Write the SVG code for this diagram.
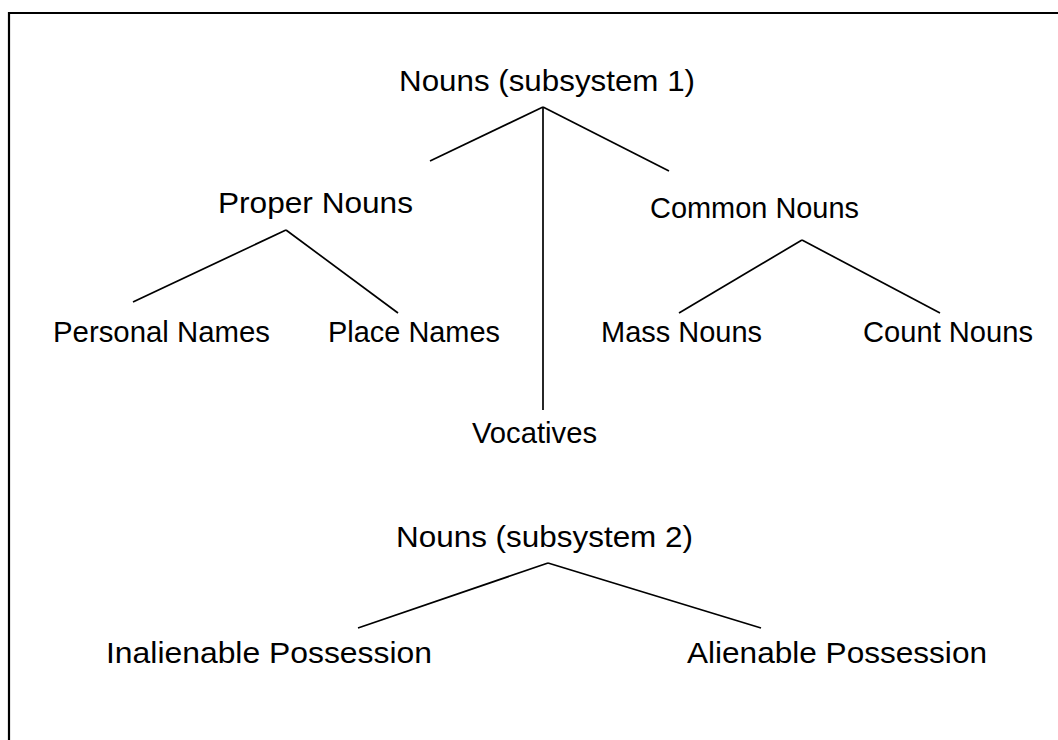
<svg xmlns="http://www.w3.org/2000/svg" width="1058" height="740" viewBox="0 0 1058 740">
<style>
text{font-family:"Liberation Sans",Arial,sans-serif;font-size:30px;fill:#000}
.edge{stroke:#000;stroke-width:1.7;fill:none}
.frame{stroke:#000;stroke-width:2.2;fill:none}
</style>
<rect x="0" y="0" width="1058" height="740" fill="#fff"/>
<path class="frame" d="M9,740 V13 H1058"/>
<g id="connectors">
<line class="edge" x1="543" y1="107" x2="430" y2="161"/>
<line class="edge" x1="543" y1="107" x2="669" y2="171"/>
<line class="edge" x1="543" y1="107" x2="543" y2="410"/>
<line class="edge" x1="286" y1="230" x2="133" y2="302"/>
<line class="edge" x1="286" y1="230" x2="398" y2="313"/>
<line class="edge" x1="802" y1="240" x2="679" y2="313"/>
<line class="edge" x1="802" y1="240" x2="940" y2="313"/>
<line class="edge" x1="548" y1="563" x2="358" y2="628"/>
<line class="edge" x1="548" y1="563" x2="761" y2="628"/>
</g>
<g id="n-root1"><text x="399" y="91" textLength="296" lengthAdjust="spacingAndGlyphs">Nouns (subsystem 1)</text></g>
<g id="n-proper"><text x="218" y="213" textLength="195" lengthAdjust="spacingAndGlyphs">Proper Nouns</text></g>
<g id="n-common"><text x="650" y="218" textLength="209" lengthAdjust="spacingAndGlyphs">Common Nouns</text></g>
<g id="n-personal"><text x="53" y="342" textLength="217" lengthAdjust="spacingAndGlyphs">Personal Names</text></g>
<g id="n-place"><text x="328" y="342" textLength="172" lengthAdjust="spacingAndGlyphs">Place Names</text></g>
<g id="n-mass"><text x="601" y="342" textLength="161" lengthAdjust="spacingAndGlyphs">Mass Nouns</text></g>
<g id="n-count"><text x="863" y="342" textLength="170" lengthAdjust="spacingAndGlyphs">Count Nouns</text></g>
<g id="n-vocatives"><text x="472" y="443" textLength="125" lengthAdjust="spacingAndGlyphs">Vocatives</text></g>
<g id="n-root2"><text x="396" y="547" textLength="297" lengthAdjust="spacingAndGlyphs">Nouns (subsystem 2)</text></g>
<g id="n-inalienable"><text x="106" y="663" textLength="326" lengthAdjust="spacingAndGlyphs">Inalienable Possession</text></g>
<g id="n-alienable"><text x="687" y="663" textLength="300" lengthAdjust="spacingAndGlyphs">Alienable Possession</text></g>
</svg>
